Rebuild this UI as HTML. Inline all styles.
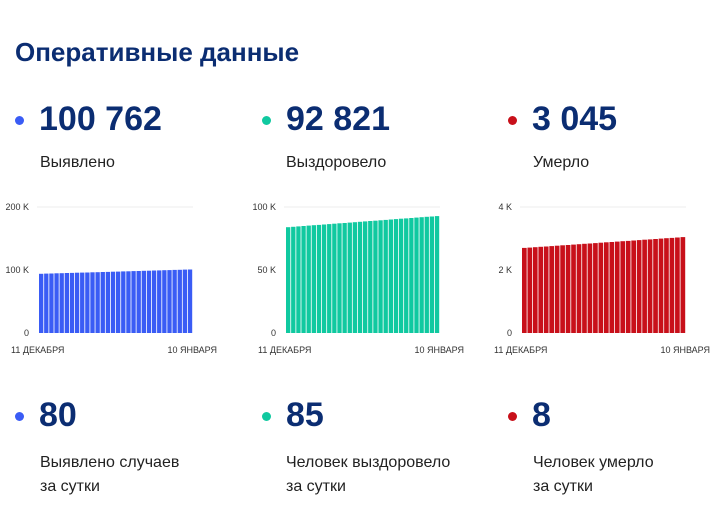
<!DOCTYPE html><html><head><meta charset="utf-8"><style>
body{margin:0;width:712px;height:517px;background:#fff;font-family:"Liberation Sans",sans-serif;color:#0b2d72;position:relative;overflow:hidden}
.a{position:absolute;white-space:nowrap}
.t{font-size:26px;font-weight:bold;left:15px;top:37px}
.n{font-size:34px;font-weight:bold}
.l{font-size:16px;color:#222;line-height:24px}
.d{width:9px;height:9px;border-radius:50%}
svg{position:absolute;left:0;top:0}
</style></head><body>
<div class="a t">Оперативные данные</div>
<div class="a d" style="left:15px;top:116px;background:#3a5cf5"></div>
<div class="a d" style="left:262px;top:116px;background:#10c9a0"></div>
<div class="a d" style="left:508px;top:116px;background:#c8101a"></div>
<div class="a n" style="left:39px;top:100px">100 762</div>
<div class="a n" style="left:286px;top:100px">92 821</div>
<div class="a n" style="left:532px;top:100px">3 045</div>
<div class="a l" style="left:40px;top:151px">Выявлено</div>
<div class="a l" style="left:286px;top:151px">Выздоровело</div>
<div class="a l" style="left:533px;top:151px">Умерло</div>
<div class="a d" style="left:15px;top:412px;background:#3a5cf5"></div>
<div class="a d" style="left:262px;top:412px;background:#10c9a0"></div>
<div class="a d" style="left:508px;top:412px;background:#c8101a"></div>
<div class="a n" style="left:39px;top:396px">80</div>
<div class="a n" style="left:286px;top:396px">85</div>
<div class="a n" style="left:532px;top:396px">8</div>
<div class="a l" style="left:40px;top:451px">Выявлено случаев<br>за сутки</div>
<div class="a l" style="left:286px;top:451px">Человек выздоровело<br>за сутки</div>
<div class="a l" style="left:533px;top:451px">Человек умерло<br>за сутки</div>
<svg id="s" width="712" height="517" font-family="Liberation Sans" font-size="9" fill="#333"></svg>
<script>
var s=document.getElementById('s'),h='';
function ch(x0,x1,labs,v0,v1,col,lx){
 h+='<line x1="'+(x0-2)+'" x2="'+x1+'" y1="207" y2="207" stroke="#eee"/>';
 var ys=[333,270,207];
 for(var i=0;i<3;i++)h+='<text x="'+lx+'" y="'+(ys[i]+3)+'" text-anchor="end">'+labs[i]+'</text>';
 var n=30,w=(x1-x0)/n;
 for(var i=0;i<n;i++){var v=v0+(v1-v0)*(i/(n-1));var y=333-126*v;
  h+='<rect x="'+(x0+i*w).toFixed(2)+'" y="'+y.toFixed(1)+'" width="'+(w-0.8).toFixed(2)+'" height="'+(333-y).toFixed(1)+'" fill="'+col+'"/>';}
 h+='<text x="'+(x0-28)+'" y="353">11 ДЕКАБРЯ</text><text x="'+(x1+24)+'" y="353" text-anchor="end">10 ЯНВАРЯ</text>';
}
ch(39,193,['0','100 K','200 K'],0.47,0.504,'#3a5cf5',29);
ch(286,440,['0','50 K','100 K'],0.84,0.928,'#10c9a0',276);
ch(522,686,['0','2 K','4 K'],0.675,0.761,'#c8101a',512);
s.innerHTML=h;
</script>
</body></html>
